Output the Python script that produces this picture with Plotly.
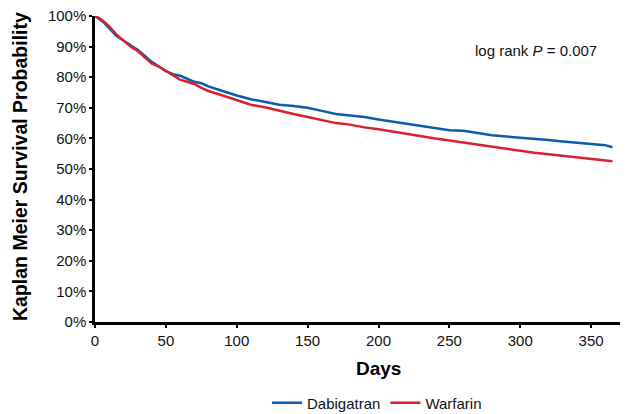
import plotly.graph_objects as go

days = [0, 3, 6, 10, 15, 20, 25, 30, 35, 40, 45, 50, 55, 60, 65, 70, 75, 80, 90, 100,
        110, 120, 130, 140, 150, 160, 170, 180, 190, 200, 210, 220, 230, 240, 250,
        260, 270, 280, 290, 300, 310, 320, 330, 340, 350, 360, 365]

dabigatran = [100, 99, 98, 96, 93.5, 92, 90.5, 89, 87, 85, 83.5, 82, 81, 80.5, 79.5, 78.5,
              78, 77, 75.5, 74, 72.8, 72, 71, 70.6, 70, 69, 68, 67.5, 67, 66.2, 65.5, 64.8,
              64, 63.2, 62.7, 62.5, 61.8, 61, 60.6, 60.3, 59.8, 59.5, 59, 58.6, 58.3, 57.8, 57.1]

warfarin = [100, 99.3, 98.3, 96.6, 94, 92, 90, 88.6, 86.5, 84.5, 83.5, 82, 80.5, 79.2, 78.5,
            77.8, 76.5, 75.5, 74, 72.4, 71, 70.2, 69, 68, 67, 66, 65, 64.5, 63.6, 63, 62.2,
            61.5, 60.8, 60, 59.3, 58.6, 58, 57.3, 56.5, 56, 55.3, 54.8, 54.3, 53.8, 53.3, 52.8, 52.5]

x_ticks = [0, 50, 100, 150, 200, 250, 300, 350]
y_ticks = [0, 10, 20, 30, 40, 50, 60, 70, 80, 90, 100]
y_tick_labels = [f"{v}%" for v in y_ticks]

FONT = "Liberation Sans, Arial, sans-serif"

# The page body has an 8px margin, so the figure is sized to fit the window.
OFF = 8
W, H = 628 - OFF, 414 - OFF
L, R, T, B = 95 - OFF, 0, 16 - OFF, 414 - 322
PW, PH = W - L - R, H - T - B


def px_x(page_x):
    return (page_x - OFF - L) / PW


def px_y(page_y):
    return (H - B - (page_y - OFF)) / PH


fig = go.Figure()
fig.add_trace(go.Scatter(x=days, y=[v / 100 for v in dabigatran], mode="lines",
                         name="Dabigatran", line=dict(color="#0a5cad", width=2.5)))
fig.add_trace(go.Scatter(x=days, y=[v / 100 for v in warfarin], mode="lines",
                         name="Warfarin", line=dict(color="#d9202e", width=2.5)))

fig.add_annotation(x=px_x(599), y=px_y(50), xref="paper", yref="paper",
                   text="log rank <i>P</i> = 0.007", showarrow=False,
                   xanchor="right", yanchor="middle",
                   font=dict(family=FONT, size=15, color="#111"))

fig.add_annotation(x=px_x(378), y=px_y(368), xref="paper", yref="paper",
                   text="<b>Days</b>", showarrow=False, xanchor="center", yanchor="middle",
                   font=dict(family=FONT, size=19, color="black"))
fig.add_annotation(x=px_x(20), y=px_y(167), xref="paper", yref="paper",
                   text="<b>Kaplan Meier Survival Probability</b>", showarrow=False,
                   textangle=-90, xanchor="center", yanchor="middle",
                   font=dict(family=FONT, size=19.5, color="black"))

fig.update_layout(
    width=W, height=H,
    margin=dict(l=L, r=R, t=T, b=B, autoexpand=False),
    paper_bgcolor="white", plot_bgcolor="white",
    font=dict(family=FONT, size=15, color="#111"),
    showlegend=True,
    legend=dict(orientation="h", xref="container", yref="container",
                x=(377 - OFF) / W, xanchor="center",
                y=(H - (403 - OFF)) / H, yanchor="middle",
                font=dict(family=FONT, size=15, color="#111"),
                traceorder="normal"),
    xaxis=dict(range=[0, 376], tickvals=x_ticks, showgrid=False, zeroline=False,
               automargin=False, ticklabeloverflow="allow",
               showline=True, linecolor="black", linewidth=2.5,
               ticks="outside", ticklen=3, tickwidth=1.5, tickcolor="black",
               tickfont=dict(family=FONT, size=15, color="#111")),
    yaxis=dict(range=[0, 1.0], tickvals=[v / 100 for v in y_ticks], ticktext=y_tick_labels,
               showgrid=False, zeroline=False, automargin=False, ticklabeloverflow="allow",
               showline=True, linecolor="black", linewidth=2.5,
               ticks="outside", ticklen=3, tickwidth=1.5, tickcolor="black",
               tickfont=dict(family=FONT, size=15, color="#111")),
)

fig.write_html("out.html")
